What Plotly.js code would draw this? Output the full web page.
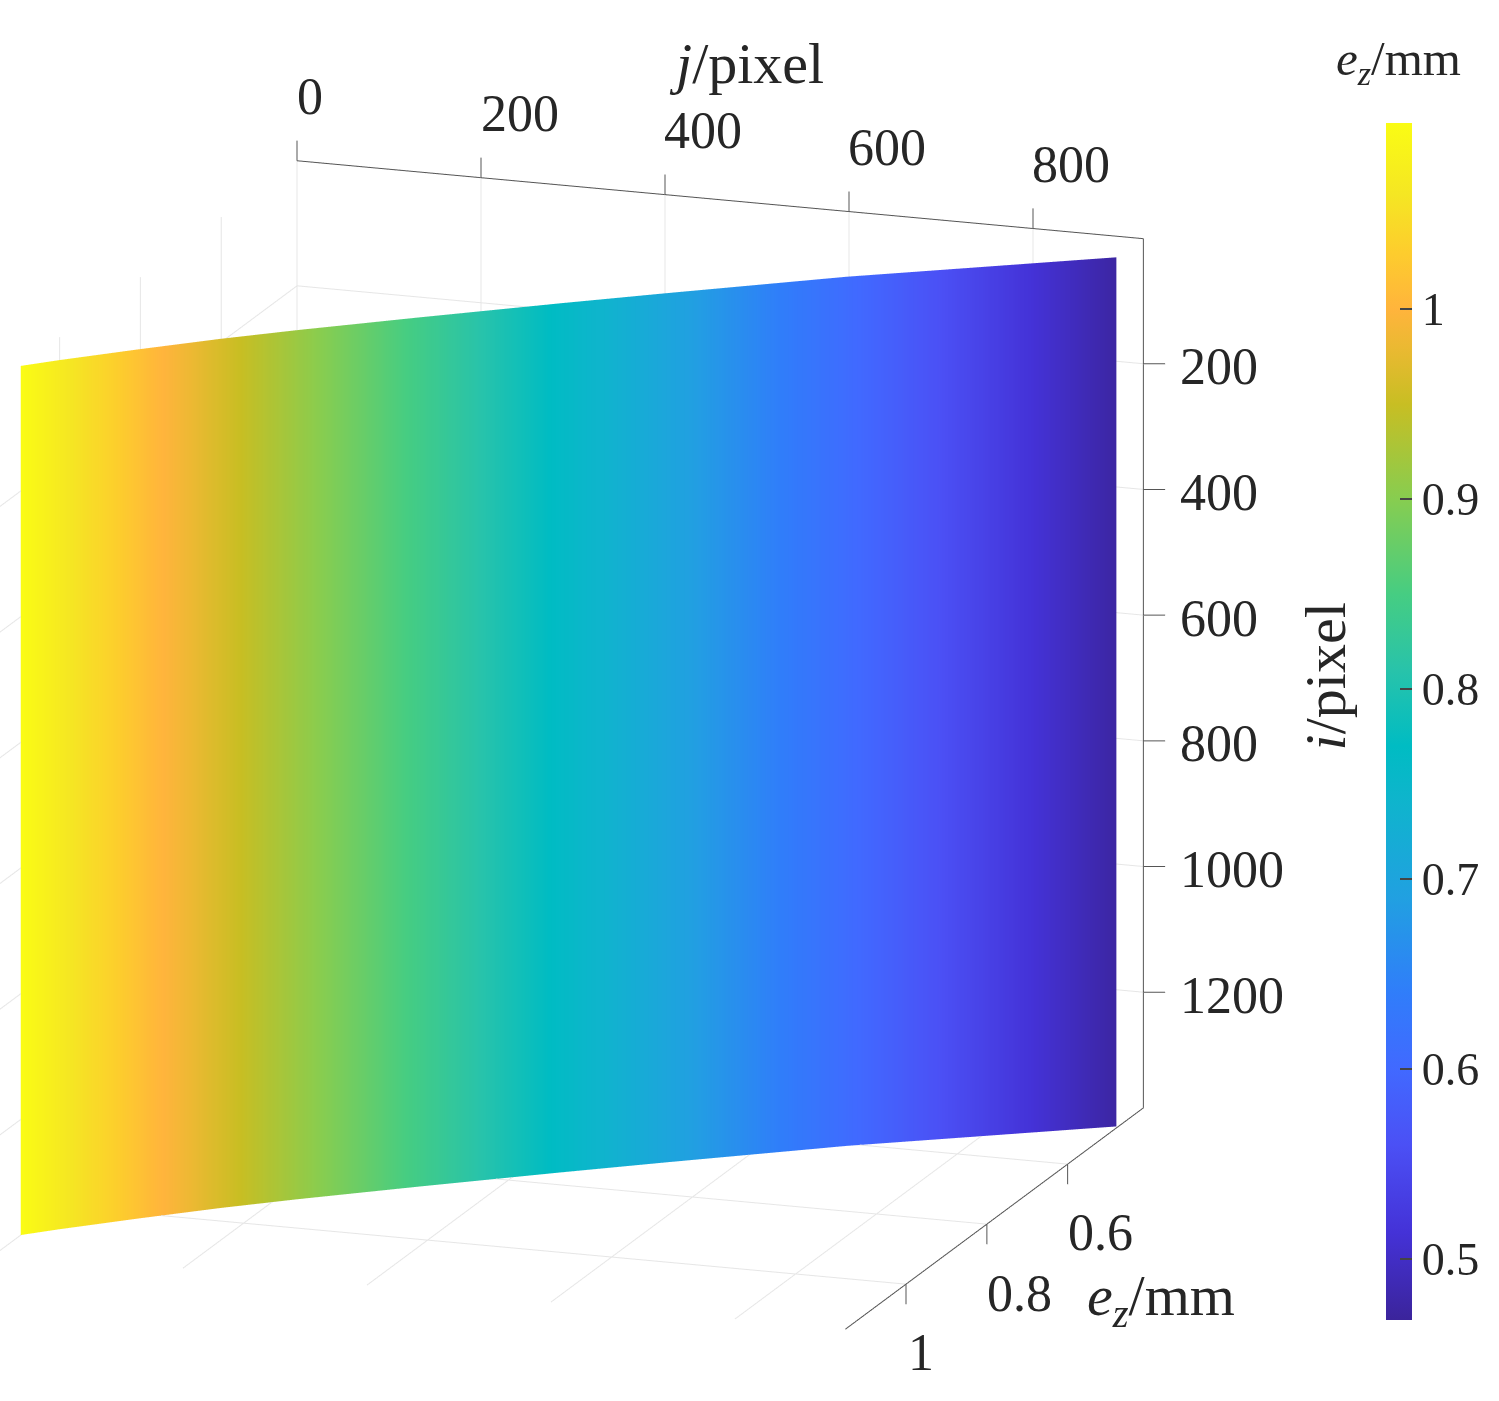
<!DOCTYPE html>
<html><head><meta charset="utf-8">
<script src="https://cdn.plot.ly/plotly-3.0.1.min.js"></script>
<style>html,body{margin:0;padding:0;background:#fff}</style></head>
<body><div id="g" style="width:1499px;height:1401px"></div>
<script>
const jVals=[0,29,92,157,220,320,442,530,683,848,918];
const iVals=[1,692,1384];
const ezByJ=[1.096,1.069,1.015,0.962,0.915,0.845,0.762,0.704,0.606,0.514,0.475];
const jTicks=[0,200,400,600,800];
const iTicks=[200,400,600,800,1000,1200];
const ezTicks=[0.6,0.8,1];
const cbTicks=[0.5,0.6,0.7,0.8,0.9,1];
const stopV=[0.468,0.514,0.56,0.60,0.64,0.69,0.74,0.77,0.81,0.85,0.90,0.95,0.98,1.0,1.03,1.06,1.098];
const stopC=['rgb(59,36,155)','rgb(68,50,215)','rgb(75,80,245)','rgb(65,105,255)','rgb(48,125,250)','rgb(33,160,225)','rgb(15,180,205)','rgb(0,188,195)','rgb(40,195,170)','rgb(70,205,130)','rgb(135,205,80)','rgb(200,190,35)','rgb(235,185,50)','rgb(255,180,60)','rgb(253,205,45)','rgb(245,230,35)','rgb(250,252,20)'];
const cmin=0.468,cmax=1.098;
const jLim=[0,920],ezLim=[0.4125,1.15],iLim=[1,1384];
const cs=stopV.map((v,k)=>[(v-cmin)/(cmax-cmin),stopC[k]]);
const font={family:'"Liberation Serif","Times New Roman",serif',color:'#262626'};
const surf={type:'surface',x:iVals.map(()=>jVals),y:iVals.map(()=>ezByJ),z:iVals.map(r=>jVals.map(()=>r)),surfacecolor:iVals.map(()=>ezByJ),cmin,cmax,colorscale:cs,
 lighting:{ambient:1,diffuse:0,specular:0,roughness:1,fresnel:0},hoverinfo:'skip',
 colorbar:{x:1386/1499,xanchor:'left',xpad:0,ypad:0,y:1-721.5/1401,yanchor:'middle',len:1197,lenmode:'pixels',thickness:26,thicknessmode:'pixels',outlinewidth:0,
  tickmode:'array',tickvals:cbTicks,ticktext:cbTicks.map(String),tickprefix:'\u200a',ticks:'inside',ticklen:12,tickcolor:'#444',tickwidth:2,tickfont:{...font,size:46}}};
function segs(list,color,width){const x=[],y=[],z=[];list.forEach(s=>{x.push(s[0],s[3],null);y.push(s[1],s[4],null);z.push(s[2],s[5],null);});
 return {type:'scatter3d',mode:'lines',x,y,z,line:{color,width},hoverinfo:'skip',showlegend:false};}
const [j0,j1]=jLim,[e0,e1]=ezLim,[i0,i1]=iLim;
const grid=[];
jTicks.forEach(j=>{grid.push([j,e0,i0,j,e0,i1]);grid.push([j,e0,i1,j,e1,i1]);});
iTicks.forEach(i=>{grid.push([j0,e0,i,j1,e0,i]);grid.push([j0,e0,i,j0,e1,i]);});
ezTicks.forEach(e=>{grid.push([j0,e,i0,j0,e,i1]);grid.push([j0,e,i1,j1,e,i1]);});
const axes=[[j0,e0,i0,j1,e0,i0],[j1,e0,i0,j1,e0,i1],[j1,e0,i1,j1,e1,i1]];
jTicks.forEach(j=>axes.push([j,e0,i0,j,e0,i0-32]));
iTicks.forEach(i=>axes.push([j1,e0,i,j1+21,e0-0.006,i]));
ezTicks.forEach(e=>axes.push([j1,e,i1,j1,e,i1+32]));
const ann=(x,y,z,text,xshift,yshift,size,extra)=>({x,y,z,text,xshift,yshift,showarrow:false,font:{...font,size},...extra});
const annots=[];
const jShift=[13,39,38,38,38];
jTicks.forEach((j,k)=>annots.push(ann(j,e0,i0,String(j),jShift[k],64,52)));
iTicks.forEach(i=>annots.push(ann(j1,e0,i,String(i),35,-3,52,{xanchor:'left'})));
const ezTxt=['0.6','0.8','1'],ezSh=[[33,-68],[33,-69],[15,-68]];
ezTicks.forEach((e,k)=>annots.push(ann(j1,e,i1,ezTxt[k],ezSh[k][0],ezSh[k][1],52)));
annots.push(ann(460,e0,i0,'<i>j</i>/pixel',26,136,58));
annots.push(ann(j1,e0,692,'<i>i</i>/pixel',183,-3,58,{textangle:-90}));
annots.push(ann(j1,0.8,i1,'<i>e<sub>z</sub></i>/mm',174,-75,58));
const noAx={showbackground:false,showspikes:false,showgrid:false,zeroline:false,showline:false,showticklabels:false,ticks:'',title:{text:''}};
const D=2.5,zoom=1.281,az=-70.6*Math.PI/180,el=15.16*Math.PI/180;
const e=[Math.cos(el)*Math.cos(az),Math.cos(el)*Math.sin(az),Math.sin(el)];
const r=[-Math.sin(az),Math.cos(az),0];
const u=[-Math.sin(el)*Math.cos(az),-Math.sin(el)*Math.sin(az),Math.cos(el)];
const shiftR=165.5/707,shiftU=44.2/707;
const c={x:r[0]*shiftR+u[0]*shiftU,y:r[1]*shiftR+u[1]*shiftU,z:u[2]*shiftU};
const layout={width:1499,height:1401,margin:{l:0,r:0,t:0,b:0},paper_bgcolor:'#fff',showlegend:false,
 annotations:[{xref:'paper',yref:'paper',x:1398/1499,y:1-61/1401,xanchor:'center',yanchor:'middle',showarrow:false,text:'<i>e<sub>z</sub></i>/mm',font:{...font,size:49}}],
 scene:{domain:{x:[0,1],y:[0,1]},aspectmode:'manual',aspectratio:{x:zoom*970/920,y:zoom*0.78/0.7375,z:1.0035*zoom*1480/1383},
  camera:{projection:{type:'orthographic'},up:{x:0,y:0,z:1},center:c,eye:{x:c.x+D*e[0],y:c.y+D*e[1],z:c.z+D*e[2]}},
  xaxis:{...noAx,range:[-10,960]},yaxis:{...noAx,range:[1.17,0.39]},zaxis:{...noAx,range:[1430,-50]},
  annotations:annots}};
Plotly.newPlot('g',[segs(grid,'#e6e6e6',2),surf,segs(axes,'#555555',2)],layout,{displayModeBar:false});
</script></body></html>
